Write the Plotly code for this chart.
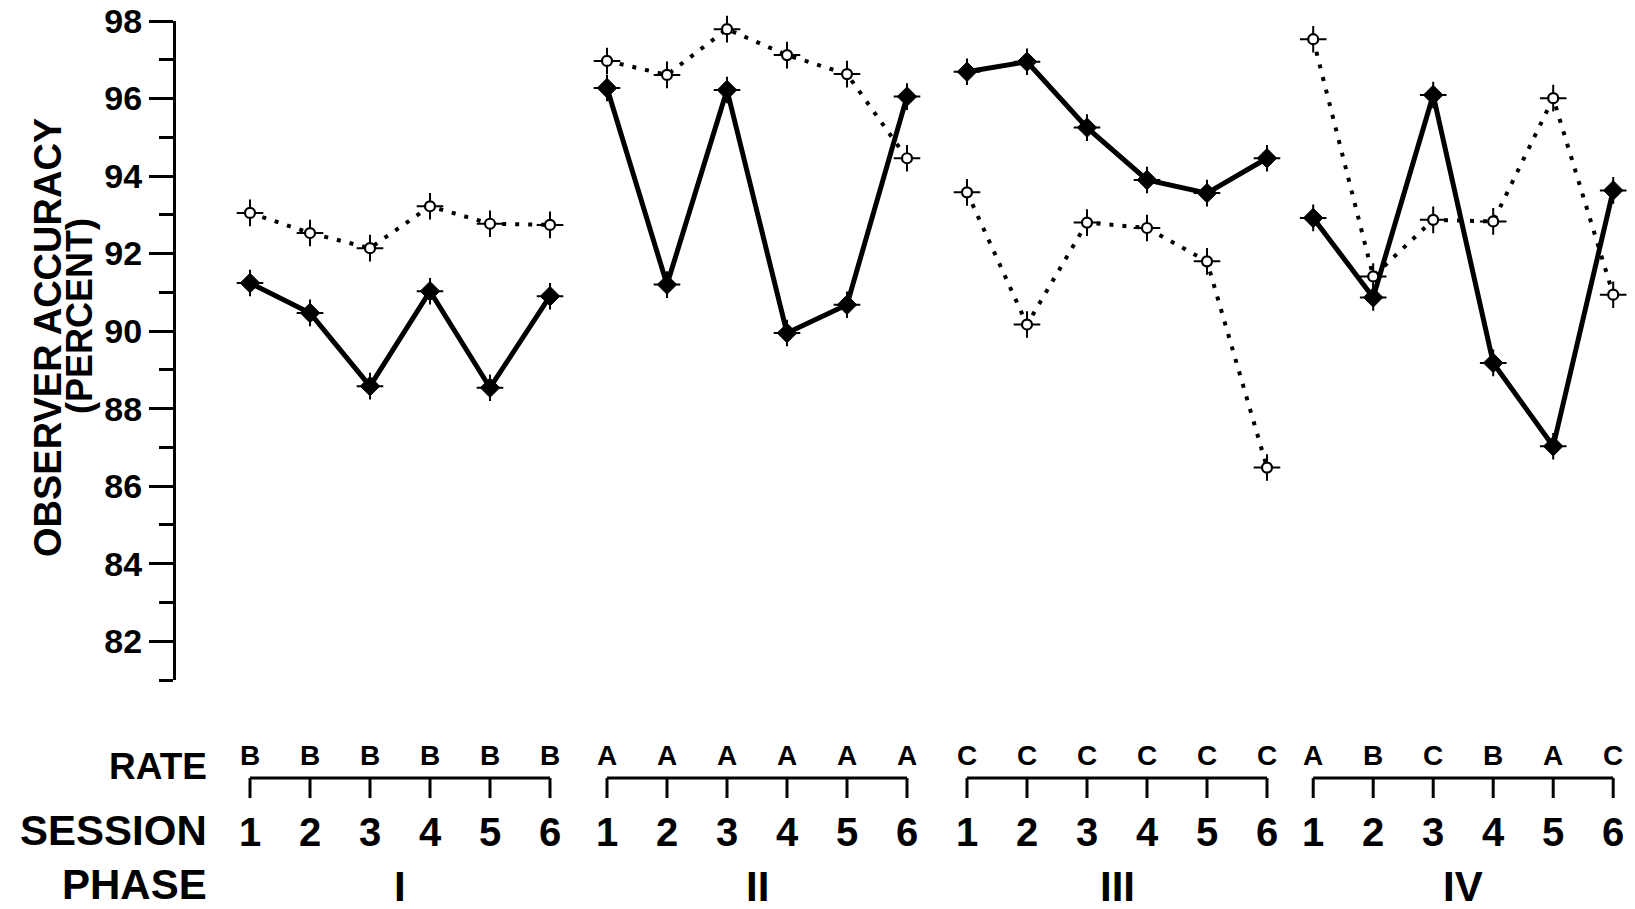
import plotly.graph_objects as go

# ---------------- data ----------------
PHASES = ["I", "II", "III", "IV"]
SESSIONS = [1, 2, 3, 4, 5, 6]
RATES = [
    ["B", "B", "B", "B", "B", "B"],
    ["A", "A", "A", "A", "A", "A"],
    ["C", "C", "C", "C", "C", "C"],
    ["A", "B", "C", "B", "A", "C"],
]
# solid line, filled markers
SOLID = [
    [91.24, 90.47, 88.58, 91.03, 88.54, 90.90],
    [96.27, 91.20, 96.22, 89.95, 90.68, 96.05],
    [96.69, 96.95, 95.25, 93.90, 93.56, 94.46],
    [92.92, 90.87, 96.09, 89.18, 87.03, 93.63],
]
# dotted line, open markers
DOTTED = [
    [93.05, 92.53, 92.14, 93.22, 92.77, 92.74],
    [96.97, 96.61, 97.79, 97.12, 96.63, 94.46],
    [93.58, 90.17, 92.80, 92.66, 91.80, 86.48],
    [97.53, 91.41, 92.87, 92.83, 96.01, 90.94],
]
Y_TICKS = [82, 84, 86, 88, 90, 92, 94, 96, 98]
Y_MINOR = [81, 83, 85, 87, 89, 91, 93, 95, 97]

# ---------------- layout constants ----------------
W, H = 1635, 909
ML, MR, MT, MB = 176, 0, 21, 229
PW, PH = W - ML - MR, H - MT - MB
PHASE_START = [0.0, 5.95, 11.95, 17.72]   # x units of each phase's first session
PX_PER_UNIT = 60.0
FIRST_PX = 250.0          # pixel of first session
FONT = "Liberation Sans, Arial, Helvetica, sans-serif"


def xu(p, s):
    return PHASE_START[p] + (s - 1)


def paper_x(px):
    return (px - ML) / PW


def paper_y(py):
    return (H - MB - py) / PH


x_lo = (ML - FIRST_PX) / PX_PER_UNIT
x_hi = (W - MR - FIRST_PX) / PX_PER_UNIT

xs, ys_solid, ys_dot = [], [], []
for p, ph in enumerate(PHASES):
    for i, s in enumerate(SESSIONS):
        xs.append(xu(p, s))
        ys_solid.append(SOLID[p][i])
        ys_dot.append(DOTTED[p][i])
    if p < len(PHASES) - 1:
        xs.append(None)
        ys_solid.append(None)
        ys_dot.append(None)

fig = go.Figure()

# lines
fig.add_trace(go.Scatter(x=xs, y=ys_dot, mode="lines", connectgaps=False,
                         line=dict(color="black", width=4, dash="4px,9px"),
                         hoverinfo="skip", showlegend=False, cliponaxis=False))
fig.add_trace(go.Scatter(x=xs, y=ys_solid, mode="lines", connectgaps=False,
                         line=dict(color="black", width=5),
                         hoverinfo="skip", showlegend=False, cliponaxis=False))
# cross ticks behind markers
for ys in (ys_dot, ys_solid):
    fig.add_trace(go.Scatter(x=xs, y=ys, mode="markers",
                             marker=dict(symbol="cross-thin", size=19, color="black",
                                         line=dict(color="black", width=2)),
                             hoverinfo="skip", showlegend=False, cliponaxis=False))
# open markers
fig.add_trace(go.Scatter(x=xs, y=ys_dot, mode="markers",
                         marker=dict(symbol="circle", size=10, color="white",
                                     line=dict(color="black", width=2.2)),
                         showlegend=False, cliponaxis=False))
# filled markers
fig.add_trace(go.Scatter(x=xs, y=ys_solid, mode="markers",
                         marker=dict(symbol="diamond", size=15, color="black",
                                     line=dict(color="black", width=1)),
                         showlegend=False, cliponaxis=False))

annotations = []
shapes = []

# rate letters, session numbers, brackets, phase labels
y_rate = paper_y(755)
y_sess = paper_y(832)
y_phase = paper_y(886)
y_br = paper_y(778)
y_br_tick = paper_y(798)
for p, ph in enumerate(PHASES):
    for i, s in enumerate(SESSIONS):
        x = xu(p, s)
        annotations.append(dict(x=x, y=y_rate, xref="x", yref="paper", text=RATES[p][i],
                                showarrow=False, xanchor="center", yanchor="middle",
                                font=dict(family=FONT, size=28, color="black", weight="bold")))
        annotations.append(dict(x=x, y=y_sess, xref="x", yref="paper", text=str(s),
                                showarrow=False, xanchor="center", yanchor="middle",
                                font=dict(family=FONT, size=40, color="black", weight="bold")))
        shapes.append(dict(type="line", xref="x", yref="paper", x0=x, x1=x,
                           y0=y_br, y1=y_br_tick, line=dict(color="black", width=3)))
    shapes.append(dict(type="line", xref="x", yref="paper", x0=xu(p, 1), x1=xu(p, 6),
                       y0=y_br, y1=y_br, line=dict(color="black", width=3)))
    annotations.append(dict(x=(xu(p, 1) + xu(p, 6)) / 2, y=y_phase, xref="x", yref="paper",
                            text=ph, showarrow=False, xanchor="center", yanchor="middle",
                            font=dict(family=FONT, size=42, color="black", weight="bold")))

# row labels
for txt, py, size in (("RATE", 766, 37), ("SESSION", 830, 42), ("PHASE", 884, 42)):
    annotations.append(dict(x=paper_x(209), y=paper_y(py), xref="paper", yref="paper",
                            text=txt, showarrow=False, xanchor="right", yanchor="middle",
                            font=dict(family=FONT, size=size, color="black", weight="bold")))

# y-axis title (two lines)
annotations.append(dict(x=paper_x(48), y=paper_y(338), xref="paper", yref="paper",
                        text="OBSERVER ACCURACY", textangle=-90, showarrow=False,
                        xanchor="center", yanchor="middle",
                        font=dict(family=FONT, size=38, color="black", weight="bold")))
annotations.append(dict(x=paper_x(80), y=paper_y(316), xref="paper", yref="paper",
                        text="(PERCENT)", textangle=-90, showarrow=False,
                        xanchor="center", yanchor="middle",
                        font=dict(family=FONT, size=36, color="black", weight="bold")))

fig.update_layout(
    width=W, height=H,
    margin=dict(l=ML, r=MR, t=MT, b=MB, pad=0),
    paper_bgcolor="white", plot_bgcolor="white",
    showlegend=False,
    xaxis=dict(range=[x_lo, x_hi], visible=False),
    yaxis=dict(range=[81, 98], tickmode="array", tickvals=Y_TICKS,
               ticktext=[str(v) for v in Y_TICKS],
               ticks="outside", ticklen=24, tickwidth=3, tickcolor="black",
               showline=True, linecolor="black", linewidth=3,
               showgrid=False, zeroline=False,
               tickfont=dict(family=FONT, size=34, color="black", weight="bold"),
               minor=dict(tickmode="array", tickvals=Y_MINOR,
                          ticks="outside", ticklen=14, tickwidth=3, tickcolor="black",
                          showgrid=False)),
    annotations=annotations,
    shapes=shapes,
)

fig.write_html("out.html",
               config={"displayModeBar": False},
               post_script="document.body.style.margin='0px';"
                           "document.body.style.overflow='hidden';")
